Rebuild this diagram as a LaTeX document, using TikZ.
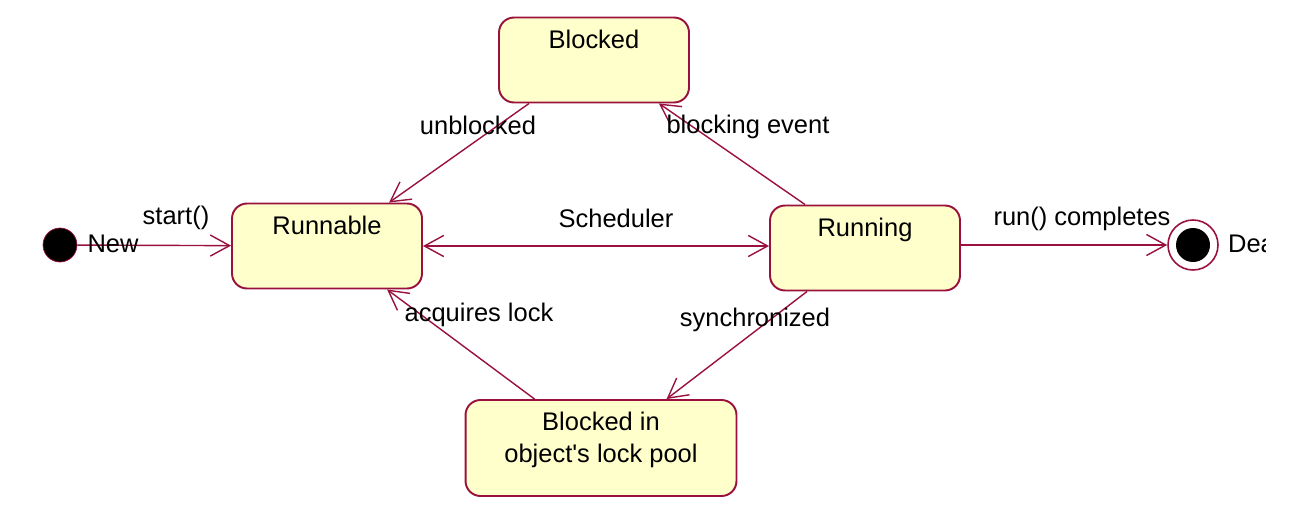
\documentclass[tikz,border=0pt]{standalone}
\usepackage{fontspec}
\setmainfont{Liberation Sans}
\usepackage{tikz}
\usetikzlibrary{arrows.meta,positioning,calc}
\definecolor{rosered}{RGB}{153,17,60}
\definecolor{roseyellow}{RGB}{255,255,204}

\begin{document}
\begin{tikzpicture}[x=0.02cm, y=-0.02cm, every node/.style={font=\fontsize{14.5}{18}\selectfont},
    state/.style={draw=rosered, fill=roseyellow, line width=1.1pt, rounded corners=0.3cm, inner sep=0pt, minimum width=3.8cm, minimum height=1.7cm, text height=0.6cm, text depth=1.08cm},
    trans/.style={draw=rosered, line width=0.8pt, -{Straight Barb[length=11pt,width=12pt]}},
    lbl/.style={inner sep=1pt}]
        \useasboundingbox (0,0) rectangle (1314,514);
        \node[state] (blocked) at (594,60) {Blocked};
        \node[state] (runnable) at (327,246) {Runnable};
        \node[state] (running) at (865,248) {Running};
        \node[state, minimum width=5.42cm, minimum height=1.92cm, align=center, text height=1.24cm, text depth=0.68cm] (pool) at (601,448) {Blocked in\\object\textquotesingle s lock pool};
        \node[circle, draw=rosered, fill=black, minimum size=0.68cm, inner sep=0pt] (new) at (60,245) {};
        \node[circle, draw=rosered, fill=white, line width=0.9pt, minimum size=1cm, inner sep=0pt,
            path picture={\fill[black] (path picture bounding box.center) circle (0.34cm);}] (dead) at (1193,245) {};
        \draw[trans] (new) -- (runnable);
        \draw[trans, {Straight Barb[length=11pt,width=12pt]}-{Straight Barb[length=11pt,width=12pt]}] (runnable.east) -- (runnable.east -| running.west);
        \draw[trans] (running.east |- dead) -- (dead);
        \draw[trans] ($(blocked.south west)+(31,0)$) -- ($(runnable.north west)+(158,0)$);
        \draw[trans] ($(running.north west)+(36,0)$) -- ($(blocked.south east)+(-31,0)$);
        \draw[trans] ($(running.south west)+(38,0)$) -- ($(pool.north west)+(202,0)$);
        \draw[trans] ($(pool.north west)+(70,0)$) -- ($(runnable.south west)+(156,0)$);
        \node[lbl] (newlbl) at (113,244) {New};
        \node[lbl] (startlbl) at (176,218) {start()};
        \node[lbl] (schedlbl) at (616,218) {Scheduler};
        \node[lbl] (runlbl) at (1082,219) {run() completes};
        \node[lbl] (unblbl) at (478,125) {unblocked};
        \node[lbl] (blklbl) at (748,127) {blocking event};
        \node[lbl] (acqlbl) at (479,315) {acquires lock};
        \node[lbl] (synlbl) at (755,320) {synchronized};
        \begin{scope}
          \clip (0,0) rectangle (1265,514);
          \node[lbl, anchor=west] (deadlbl) at (1226,243) {Dead};
        \end{scope}
      \end{tikzpicture}
\end{document}
